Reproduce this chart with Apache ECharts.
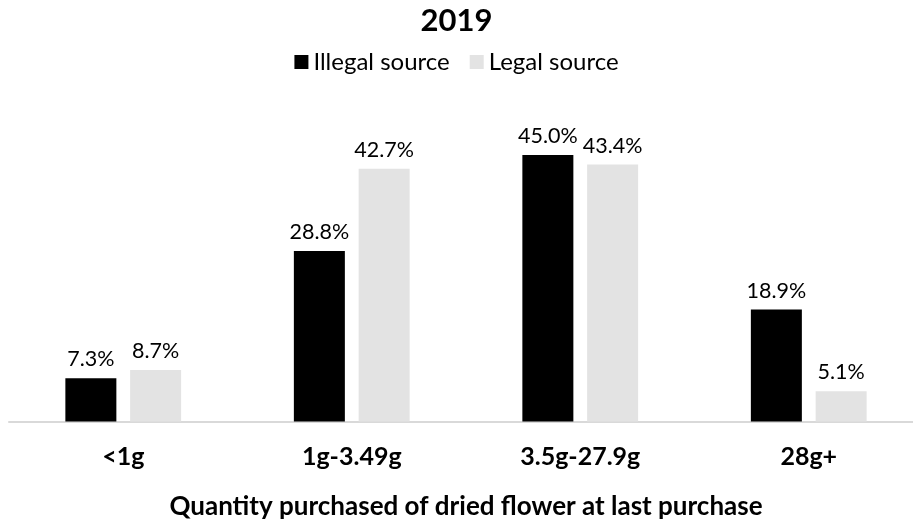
<!DOCTYPE html>
<html>
<head>
<meta charset="utf-8">
<script src="https://cdn.jsdelivr.net/npm/echarts@6/dist/echarts.min.js"></script>
<style>html,body{margin:0;padding:0;background:#fff}#c{width:913px;height:522px}</style>
</head>
<body>
<div id="c"></div>
<script>
const titleText = '2019';
const categories = ['<1g', '1g-3.49g', '3.5g-27.9g', '28g+'];
const illegalValues = [7.3, 28.8, 45.0, 18.9];
const legalValues = [8.7, 42.7, 43.4, 5.1];
const seriesNames = ['Illegal source', 'Legal source'];
const xAxisTitle = 'Quantity purchased of dried flower at last purchase';

const FONT = 'Lato, "Open Sans", sans-serif';
const chart = echarts.init(document.getElementById('c'), null, {renderer: 'canvas'});
const labelCfg = {
  show: true, position: 'top', distance: 8,
  color: '#000', fontSize: 21.5, fontFamily: FONT,
  formatter: p => p.value.toFixed(1) + '%'
};
chart.setOption({
  animation: false,
  backgroundColor: '#fff',
  title: {
    text: titleText, left: 'center', top: 0,
    textStyle: {fontSize: 31, fontWeight: 'bold', color: '#000', fontFamily: FONT}
  },
  legend: {
    top: 45, left: 'center', itemWidth: 14, itemHeight: 14, itemGap: 20,
    icon: 'rect',
    textStyle: {fontSize: 24, color: '#000', fontFamily: FONT},
    data: seriesNames
  },
  grid: {left: 9, width: 914, top: 125.5, bottom: 100.5, outerBoundsMode: 'none', containLabel: false},
  xAxis: {
    type: 'category', data: categories,
    axisLine: {lineStyle: {color: '#d9d9d9', width: 2}},
    axisTick: {show: false},
    axisLabel: {margin: 23, fontSize: 25, fontWeight: 'bold', color: '#000', fontFamily: FONT},
    name: xAxisTitle, nameLocation: 'middle', nameGap: 72,
    nameTextStyle: {fontSize: 26, fontWeight: 'bold', color: '#000', fontFamily: FONT}
  },
  yAxis: {
    type: 'value', min: 0, max: 50, show: false,
    splitLine: {show: false}
  },
  series: [
    {name: seriesNames[0], type: 'bar', data: illegalValues, barWidth: 51, barGap: '27%',
     itemStyle: {color: '#000000'}, label: labelCfg},
    {name: seriesNames[1], type: 'bar', data: legalValues, barWidth: 51,
     itemStyle: {color: '#e3e3e3'}, label: labelCfg}
  ]
});
</script>
</body>
</html>
